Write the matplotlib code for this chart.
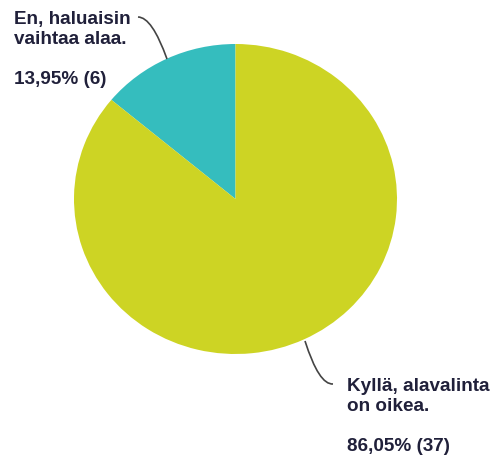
import matplotlib.pyplot as plt
from matplotlib.path import Path
from matplotlib.patches import PathPatch

# data
labels = ["En, haluaisin\nvaihtaa alaa.", "Kyllä, alavalinta\non oikea."]
counts = [6, 37]
percents = ["13,95%", "86,05%"]
colors = ["#35bdbe", "#cdd424"]

plt.rcParams["font.family"] = ["Liberation Sans", "DejaVu Sans"]

fig = plt.figure(figsize=(4.91, 4.6), dpi=100)

# pie area (slightly squashed like the original)
ax = fig.add_axes([74 / 491, (460 - 355) / 460, 323 / 491, 310 / 460])
ax.pie(counts, colors=colors, startangle=90, counterclock=True,
       wedgeprops={"linewidth": 0})
ax.set_aspect("auto")
ax.set_xlim(-1, 1)
ax.set_ylim(-1, 1)
ax.axis("off")

# overlay in pixel coords for labels + leader lines
ov = fig.add_axes([0, 0, 1, 1])
ov.set_xlim(0, 491)
ov.set_ylim(460, 0)
ov.axis("off")

txt_col = "#20203a"
fs = 13.6
ov.text(14, 11, labels[0] + "\n\n" + "%s (%d)" % (percents[0], counts[0]),
        fontsize=fs, fontweight="bold", color=txt_col, ha="left",
        va="top", linespacing=1.22)
ov.text(347, 378, labels[1] + "\n\n" + "%s (%d)" % (percents[1], counts[1]),
        fontsize=fs, fontweight="bold", color=txt_col, ha="left",
        va="top", linespacing=1.22)

line_col = "#444444"
p1 = Path([(138, 18), (152, 18), (167, 60)], [Path.MOVETO, Path.CURVE3, Path.CURVE3])
p2 = Path([(305, 342), (319, 386), (333, 385)], [Path.MOVETO, Path.CURVE3, Path.CURVE3])
for p in (p1, p2):
    ov.add_patch(PathPatch(p, fill=False, edgecolor=line_col, lw=1.2))

fig.savefig("out.png", dpi=100)
